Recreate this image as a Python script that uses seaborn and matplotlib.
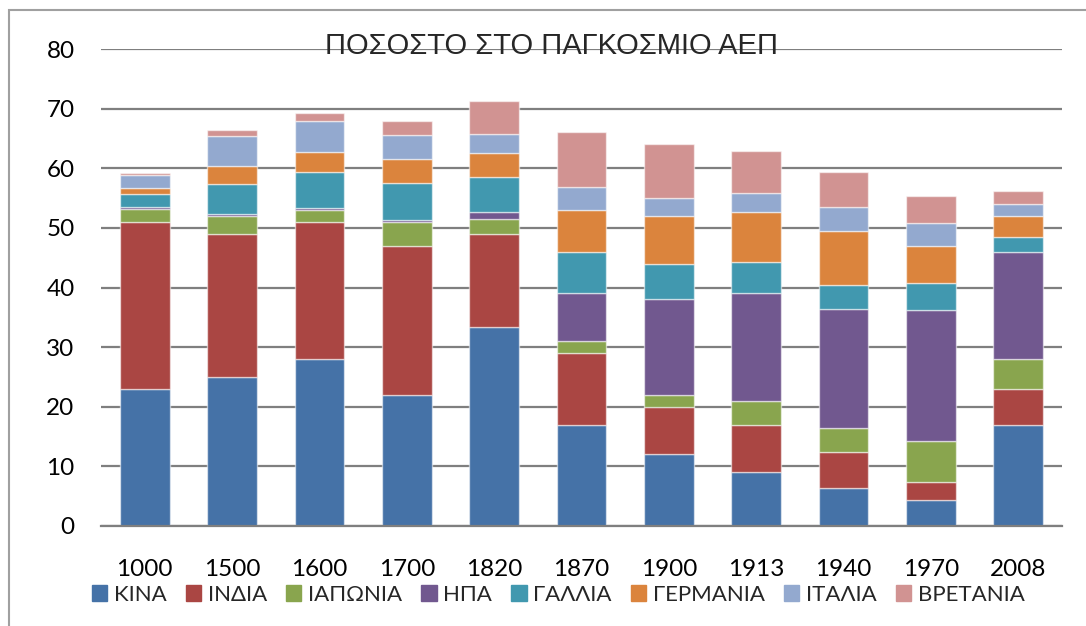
import matplotlib
matplotlib.use('Agg')
import matplotlib.pyplot as plt
import matplotlib.patches as mpatches
import seaborn as sns
import numpy as np

years = ['1000', '1500', '1600', '1700', '1820', '1870', '1900', '1913', '1940', '1970', '2008']
countries = ['ΚΙΝΑ', 'ΙΝΔΙΑ', 'ΙΑΠΩΝΙΑ', 'ΗΠΑ', 'ΓΑΛΛΙΑ', 'ΓΕΡΜΑΝΙΑ', 'ΙΤΑΛΙΑ', 'ΒΡΕΤΑΝΙΑ']

kina = [23, 25, 28, 22, 33.4, 17, 12, 9, 6.4, 4.3, 17]
india = [28, 24, 23, 25, 15.5, 12, 8, 8, 6.0, 3.0, 6]
iaponia = [2.2, 3.0, 2.0, 4.0, 2.6, 2.0, 2.0, 4.0, 4.0, 7.0, 5.0]
ipa = [0.3, 0.4, 0.4, 0.4, 1.1, 8.0, 16.0, 18.0, 20.0, 22.0, 18.0]
gallia = [2.2, 5.0, 5.9, 6.1, 6.0, 6.9, 6.0, 5.3, 4.0, 4.5, 2.5]
germania = [1.0, 3.0, 3.5, 4.0, 4.0, 7.1, 8.0, 8.3, 9.0, 6.1, 3.5]
italia = [2.1, 5.0, 5.2, 4.1, 3.1, 3.9, 3.0, 3.2, 4.1, 4.0, 2.0]
bretania = [0.4, 1.0, 1.3, 2.4, 5.5, 9.1, 9.0, 7.1, 5.9, 4.5, 2.2]

series = [kina, india, iaponia, ipa, gallia, germania, italia, bretania]
colors = ['#4572A7', '#AA4643', '#89A54E', '#71588F', '#4198AF', '#DB843D', '#93A9CF', '#D19392']

sns.set_style('white')
plt.rcParams['font.family'] = ['Lato', 'DejaVu Sans']

fig = plt.figure(figsize=(10.86, 6.26), dpi=100)
ax = fig.add_axes([101 / 1086, 1 - 526 / 626, (1062 - 101) / 1086, (526 - 49) / 626])

# stacked bars: one barplot per country, sitting on the running total
bottom = np.zeros(len(years))
for vals, col in zip(series, colors):
    sns.barplot(x=years, y=vals, bottom=bottom, color=col, width=0.57, errorbar=None,
                saturation=1, edgecolor=(1, 1, 1, 0.55), linewidth=1.0, ax=ax)
    bottom = bottom + np.array(vals)

ax.set_ylim(0, 80)
ax.set_xlim(-0.5, len(years) - 0.5)
ax.set_yticks(range(0, 81, 10))
ax.yaxis.grid(True, color='#7f7f7f', linewidth=1.6)
ax.set_axisbelow(True)
for s in ['top', 'right', 'left']:
    ax.spines[s].set_visible(False)
ax.spines['bottom'].set_color('#7f7f7f')
ax.spines['bottom'].set_linewidth(1.6)
ax.tick_params(axis='both', length=0, labelsize=17.5, colors='black')
ax.tick_params(axis='x', pad=24)
ax.tick_params(axis='y', pad=19)
ax.set_xlabel('')
ax.set_ylabel('')

fig.text(0.508, 1 - 46 / 626, 'ΠΟΣΟΣΤΟ ΣΤΟ ΠΑΓΚΟΣΜΙΟ ΑΕΠ', ha='center', va='center',
         fontsize=21, family=['Liberation Sans', 'DejaVu Sans'])

handles = [mpatches.Patch(color=c, label=n) for c, n in zip(colors, countries)]
fig.legend(handles=handles, loc='center', bbox_to_anchor=(0.514, 1 - 595 / 626), ncol=8,
           frameon=False, fontsize=16, handlelength=0.7, handleheight=0.7,
           handletextpad=0.3, columnspacing=0.85)

border = mpatches.Rectangle((9 / 1086, -0.1), 1.2, 1 - 10 / 626 + 0.1, transform=fig.transFigure,
                            fill=False, edgecolor='#a0a0a0', linewidth=1.5)
fig.patches.append(border)

fig.savefig('out.png', dpi=100)
